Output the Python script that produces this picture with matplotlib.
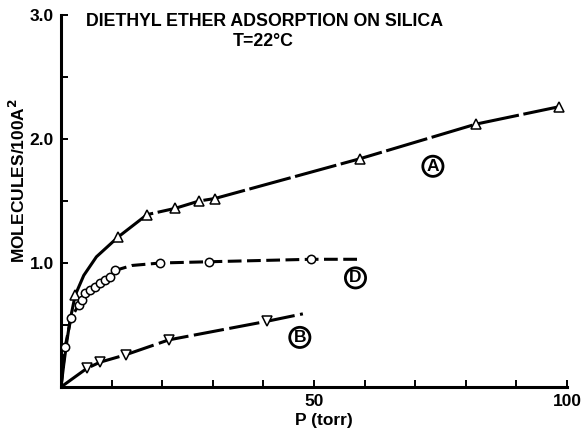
import matplotlib
matplotlib.use("Agg")
import matplotlib.pyplot as plt

plt.rcParams['font.family'] = ['Liberation Sans', 'DejaVu Sans']
plt.rcParams['font.weight'] = 'bold'

# Curve A (open up-triangles)
a_p = [2.8, 11.3, 17.0, 22.5, 27.3, 30.4, 59.0, 82.0, 98.4]
a_n = [0.74, 1.21, 1.39, 1.44, 1.50, 1.52, 1.84, 2.12, 2.26]
a_line_p = [0, 0.6, 1.2, 1.8, 2.8, 4.5, 7.0, 11.3, 17.0, 22.5, 27.3, 30.4, 59.0, 82.0, 98.4]
a_line_n = [0, 0.20, 0.38, 0.54, 0.74, 0.90, 1.05, 1.21, 1.39, 1.44, 1.50, 1.52, 1.84, 2.12, 2.26]

# Curve D (open circles)
d_p = [0.8, 2.0, 3.5, 4.1, 4.7, 5.7, 6.7, 7.7, 8.7, 9.7, 10.7, 19.6, 29.2, 49.4]
d_n = [0.32, 0.56, 0.66, 0.70, 0.76, 0.78, 0.81, 0.84, 0.86, 0.89, 0.94, 1.00, 1.01, 1.03]
d_line_p = [0, 0.4, 0.8, 2.0, 3.5, 4.1, 4.7, 5.7, 6.7, 7.7, 8.7, 9.7, 10.7, 14.0, 19.6, 29.2, 49.4, 59.0]
d_line_n = [0, 0.15, 0.32, 0.56, 0.66, 0.70, 0.76, 0.78, 0.81, 0.84, 0.86, 0.89, 0.94, 0.98, 1.00, 1.01, 1.03, 1.03]

# Curve B (open down-triangles)
b_p = [5.1, 7.7, 12.8, 21.3, 40.7]
b_n = [0.15, 0.20, 0.26, 0.38, 0.53]
b_line_p = [0, 5.1, 7.7, 12.8, 21.3, 40.7, 47.8]
b_line_n = [0, 0.15, 0.20, 0.26, 0.38, 0.53, 0.59]

x_ticks = [0, 10, 20, 30, 40, 50, 60, 70, 80, 90, 100]
x_labels = ['', '', '', '', '', '50', '', '', '', '', '100']
y_ticks = [0, 0.5, 1.0, 1.5, 2.0, 2.5, 3.0]
y_labels = ['', '', '1.0', '', '2.0', '', '3.0']

fig = plt.figure(figsize=(5.84, 4.33), dpi=100)
ax = fig.add_axes([61/584, 1 - 387/433, (567 - 61)/584, (387 - 15)/433])

lw = 2.2
# near-origin parts of A are drawn solid, the rest long-dashed
ax.plot(a_line_p[:8], a_line_n[:8], color='black', lw=lw, zorder=2)
ax.plot(a_line_p[7:], a_line_n[7:], color='black', lw=lw, dashes=(14, 1.5), zorder=2)
ax.plot(d_line_p, d_line_n, color='black', lw=lw, dashes=(4.5, 1.8), zorder=2)
ax.plot(b_line_p, b_line_n, color='black', lw=lw, dashes=(10, 1.8), zorder=2)

mk = dict(linestyle='none', markerfacecolor='white', markeredgecolor='black',
          markeredgewidth=1.1, zorder=3)
ax.plot(a_p, a_n, marker='^', markersize=6.5, **mk)
ax.plot(d_p, d_n, marker='o', markersize=6.0, **mk)
ax.plot(b_p, b_n, marker='v', markersize=6.5, **mk)

circ = dict(boxstyle='circle,pad=0.15', fc='white', ec='black', lw=2.0)
for txt, px, py in (('A', 73.5, 1.78), ('D', 58.2, 0.88), ('B', 47.2, 0.40)):
    ax.text(px, py, txt, fontsize=12.5, fontweight='bold', ha='center', va='center', bbox=circ)

ax.set_xlim(0, 100)
ax.set_ylim(0, 3.0)
ax.set_xticks(x_ticks)
ax.set_xticklabels(x_labels)
ax.set_yticks(y_ticks)
ax.set_yticklabels(y_labels)
ax.tick_params(direction='in', length=5, width=1.4, labelsize=12.5, pad=5)
for lab in ax.get_xticklabels() + ax.get_yticklabels():
    lab.set_fontweight('bold')

for s in ('top', 'right'):
    ax.spines[s].set_visible(False)
for s in ('left', 'bottom'):
    ax.spines[s].set_linewidth(2.2)

fig.text(265/584, 1 - 21/433, 'DIETHYL ETHER ADSORPTION ON SILICA', fontsize=12.8,
         fontweight='bold', ha='center', va='center')
fig.text(263/584, 1 - 41/433, 'T=22°C', fontsize=12.8, fontweight='bold',
         ha='center', va='center')
fig.text(18/584, 1 - 181/433, 'MOLECULES/100A$^{\\mathbf{2}}$', fontsize=12.5,
         fontweight='bold', rotation=90, ha='center', va='center')
fig.text(324/584, 1 - 421/433, 'P (torr)', fontsize=12.5, fontweight='bold',
         ha='center', va='center')

fig.savefig('out.png', dpi=100)
